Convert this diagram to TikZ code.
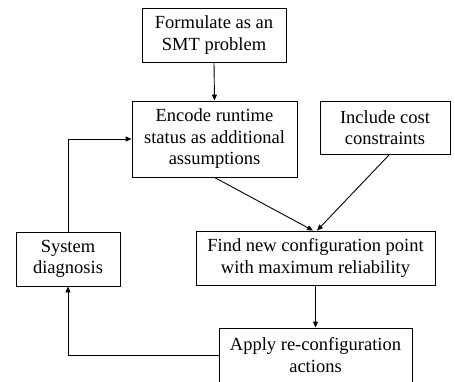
\documentclass[tikz,border=0pt]{standalone}
\usepackage{fontspec}
\setmainfont{Liberation Serif}
\usetikzlibrary{arrows.meta}
\begin{document}
\begin{tikzpicture}[x=1pt,y=-1pt,
  box/.style={draw, line width=0.9pt, rectangle, inner sep=0pt, align=center,
    font=\fontsize{18.5}{21.5}\selectfont},
  conn/.style={line width=0.9pt, -{Triangle[length=6pt,width=5pt]}}]
\useasboundingbox (0,0) rectangle (455,381);
\node[box, minimum width=144, minimum height=54] (f) at (214,35) {Formulate as an\\SMT problem};
\node[box, minimum width=165, minimum height=76] (e) at (214.5,139) {Encode runtime\\status as additional\\assumptions};
\node[box, minimum width=130, minimum height=53] (c) at (385,127.5) {Include cost\\constraints};
\node[box, minimum width=104, minimum height=54] (s) at (68,259) {System\\diagnosis};
\node[box, minimum width=239, minimum height=54] (n) at (315.5,258) {Find new configuration point\\with maximum reliability};
\node[box, minimum width=193, minimum height=54] (a) at (315.5,355) {Apply re-configuration\\actions};
\coordinate (bl) at (68,355);
\coordinate (tl) at (68,139);
\draw[conn] (f.south) -- (e.north);
\draw[conn] (e.south) -- ([xshift=-2.5pt]n.north);
\draw[conn] ([xshift=4.5pt]c.south) -- ([xshift=1.5pt]n.north);
\draw[conn] (n.south) -- (a.north);
\draw[conn] (a.west) -- (bl) -- (s.south);
\draw[conn] (s.north) -- (tl) -- (e.west);
\end{tikzpicture}
\end{document}
